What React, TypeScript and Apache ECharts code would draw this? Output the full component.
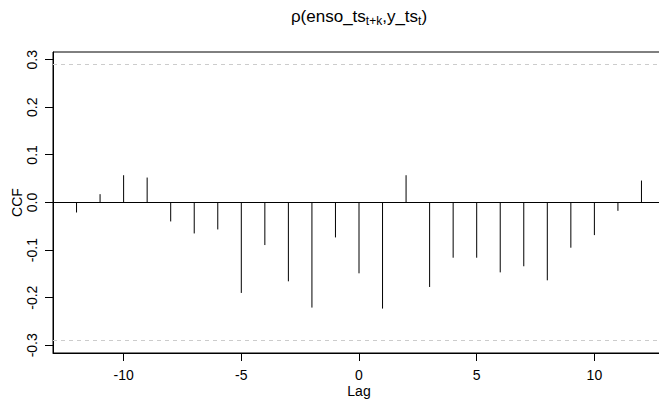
import React, { useEffect, useRef } from "react";
import * as echarts from "echarts";

const lags = [-12, -11, -10, -9, -8, -7, -6, -5, -4, -3, -2, -1, 0, 1, 2, 3, 4, 5, 6, 7, 8, 9, 10, 11, 12];
const ccfValues = [
  -0.021, 0.0175, 0.0573, 0.0524, -0.0398, -0.065, -0.0566, -0.19, -0.0894, -0.1656, -0.2208, -0.0734,
  -0.1488, -0.2229, 0.0573, -0.1775, -0.116, -0.116, -0.1468, -0.134, -0.1635, -0.095, -0.0685, -0.0175, 0.0461,
];
const ciLevel = 0.2925;
const xTicks = [-10, -5, 0, 5, 10];
const yTicks = [-0.3, -0.2, -0.1, 0, 0.1, 0.2, 0.3];
const xRange = [-13, 13];
const yRange = [-0.3162, 0.3162];

const FONT = "'Liberation Sans', Arial, Helvetica, sans-serif";
const GRID = { left: 53, top: 52, width: 612, height: 301 };
const TICK_LEN = 8;

export default function App() {
  const ref = useRef<HTMLDivElement>(null);
  useEffect(() => {
    if (!ref.current) return;
    const chart = echarts.init(ref.current, undefined, { renderer: "svg" });
    const data = lags.map((l, i) => [l, ccfValues[i]]);
    const bottom = GRID.top + GRID.height;
    chart.setOption({
      animation: false,
      backgroundColor: "#ffffff",
      textStyle: { fontFamily: FONT },
      grid: {
        ...GRID,
        show: true,
        borderColor: "#000",
        borderWidth: 1,
        backgroundColor: "transparent",
        outerBoundsMode: "none",
      },
      xAxis: {
        type: "value",
        min: xRange[0],
        max: xRange[1],
        name: "Lag",
        nameLocation: "middle",
        nameGap: 31,
        nameMoveOverlap: false,
        nameTextStyle: { fontSize: 14, color: "#000", fontFamily: FONT },
        axisLine: { show: true, onZero: false, lineStyle: { color: "#000", width: 1 } },
        splitLine: { show: false },
        axisTick: { show: false },
        axisLabel: {
          fontSize: 14,
          color: "#000",
          margin: 15,
          fontFamily: FONT,
          customValues: xTicks,
          formatter: (v: number) => String(v),
        },
      },
      yAxis: {
        type: "value",
        min: yRange[0],
        max: yRange[1],
        name: "CCF",
        nameLocation: "middle",
        nameRotate: 90,
        nameGap: 29,
        nameMoveOverlap: false,
        nameTextStyle: { fontSize: 14, color: "#000", fontFamily: FONT },
        axisLine: { show: true, onZero: false, lineStyle: { color: "#000", width: 1 } },
        splitLine: { show: false },
        axisTick: { show: false },
        axisLabel: {
          fontSize: 14,
          color: "#000",
          rotate: 90,
          margin: 14,
          fontFamily: FONT,
          customValues: yTicks,
          formatter: (v: number) => (Math.abs(v) < 1e-9 ? "0.0" : v.toFixed(1)),
        },
      },
      series: [
        {
          type: "custom",
          data,
          clip: true,
          renderItem: (params: any, api: any) => {
            const x = api.value(0);
            const y = api.value(1);
            const p0 = api.coord([x, 0]);
            const p1 = api.coord([x, y]);
            return {
              type: "line",
              shape: { x1: p0[0], y1: p0[1], x2: p1[0], y2: p1[1] },
              style: { stroke: "#000", lineWidth: 1 },
            };
          },
          markLine: {
            silent: true,
            symbol: "none",
            label: { show: false },
            data: [
              { yAxis: 0, lineStyle: { color: "#000", width: 1, type: "solid" } },
              { yAxis: ciLevel, lineStyle: { color: "#cccccc", width: 1, type: [4, 4] } },
              { yAxis: -ciLevel, lineStyle: { color: "#cccccc", width: 1, type: [4, 4] } },
            ],
          },
        },
      ],
    });

    // axis tick positions taken from the chart's own scales (linear fallback on the same ranges)
    const toPxX = (v: number): number => {
      let p: any = null;
      try {
        p = chart.convertToPixel({ xAxisIndex: 0 } as any, v as any);
      } catch (e) {
        p = null;
      }
      if (typeof p === "number" && isFinite(p)) return p;
      return GRID.left + ((v - xRange[0]) / (xRange[1] - xRange[0])) * GRID.width;
    };
    const toPxY = (v: number): number => {
      let p: any = null;
      try {
        p = chart.convertToPixel({ yAxisIndex: 0 } as any, v as any);
      } catch (e) {
        p = null;
      }
      if (typeof p === "number" && isFinite(p)) return p;
      return GRID.top + ((yRange[1] - v) / (yRange[1] - yRange[0])) * GRID.height;
    };

    const tickEls: any[] = [];
    xTicks.forEach((v) => {
      const x = Math.floor(toPxX(v));
      tickEls.push({
        type: "rect",
        silent: true,
        z: 50,
        shape: { x, y: bottom, width: 1, height: TICK_LEN },
        style: { fill: "#000" },
      });
    });
    yTicks.forEach((v) => {
      const y = Math.floor(toPxY(v));
      tickEls.push({
        type: "rect",
        silent: true,
        z: 50,
        shape: { x: GRID.left - TICK_LEN, y, width: TICK_LEN, height: 1 },
        style: { fill: "#000" },
      });
    });

    chart.setOption({
      graphic: [
        {
          type: "text",
          x: 359,
          y: 16,
          style: {
            text: "{a|ρ(enso_ts}{s|t+k}{a|,y_ts}{s|t}{a|)}",
            align: "center",
            verticalAlign: "middle",
            fill: "#000",
            rich: {
              a: { fontSize: 17, fontFamily: FONT, fill: "#000", lineHeight: 22, verticalAlign: "middle" },
              s: { fontSize: 12, fontFamily: FONT, fill: "#000", lineHeight: 12, verticalAlign: "bottom" },
            },
          },
        },
        ...tickEls,
      ],
    });
    return () => chart.dispose();
  }, []);
  return (
    <div
      ref={ref}
      style={{ position: "fixed", left: 0, top: 0, width: 659, height: 401, background: "#fff" }}
    />
  );
}
